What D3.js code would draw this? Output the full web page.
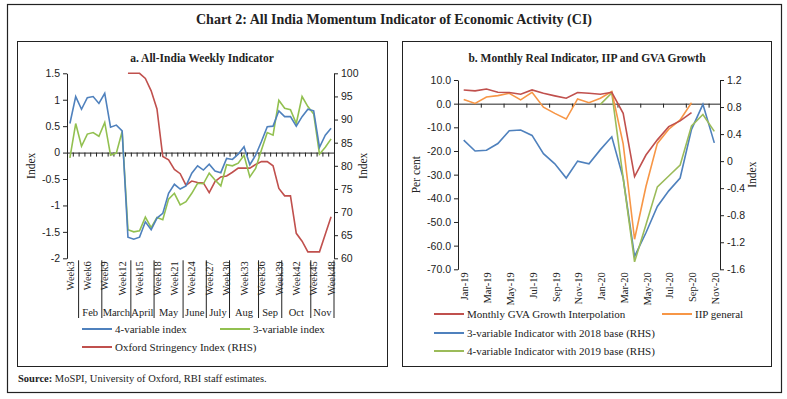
<!DOCTYPE html>
<html>
<head>
<meta charset="utf-8">
<script src="https://cdn.jsdelivr.net/npm/d3@7"></script>
<style>
  body { margin: 0; background: #fff; }
  svg { display: block; font-family: "Liberation Serif", "Times New Roman", serif; }
  .tick text { font-size: 10.5px; fill: #222; }
</style>
</head>
<body>
<div id="chart"></div>
<script>
// ---------- data: panel a (weekly) ----------
const weeks = d3.range(3, 49).map(w => "Week" + w);
const weekMonths = ["Feb", "March", "April", "May", "June", "July", "Aug", "Sep", "Oct", "Nov"];
const monthFirstWeek = [5, 9, 14, 18, 23, 27, 31, 36, 40, 45];
const fourVar = [0.55, 1.06, 0.82, 1.04, 1.06, 0.93, 1.12, 0.48, 0.52, 0.41,
  -1.60, -1.64, -1.60, -1.31, -1.46, -1.24, -1.15, -0.77, -0.60, -0.69,
  -0.63, -0.39, -0.25, -0.33, -0.22, -0.35, -0.38, -0.11, -0.13, -0.03,
  0.11, -0.23, -0.05, 0.21, 0.49, 0.50, 0.79, 0.68, 0.68, 0.50,
  0.68, 0.82, 0.79, 0.10, 0.33, 0.46];
const threeVar = [-0.10, 0.55, 0.12, 0.35, 0.38, 0.31, 0.57, -0.05, -0.01, 0.40,
  -1.46, -1.50, -1.48, -1.22, -1.42, -1.23, -1.27, -0.88, -0.77, -0.99,
  -0.93, -0.77, -0.58, -0.59, -0.39, -0.52, -0.63, -0.23, -0.25, -0.20,
  -0.05, -0.46, -0.30, 0.05, 0.38, 0.33, 0.99, 0.84, 0.81, 0.55,
  1.06, 0.87, 0.73, -0.03, 0.10, 0.26];
const stringency = [null, null, null, null, null, null, null, null, null, null,
  100, 100, 100, 98.9, 96.2, 92.3, 82.0, 81.3, 79.2, 78.3,
  75.8, 76.7, 76.4, 76.3, 74.2, 76.6, 77.6, 77.8, 78.6, 79.5,
  79.5, 79.5, 80.3, 80.9, 80.9, 80.0, 75.1, 73.5, 73.5, 65.4,
  63.7, 61.4, 61.4, 61.4, 65.2, 69.0];
const aLeftTicks = [-2, -1.5, -1, -0.5, 0, 0.5, 1, 1.5];
const aRightTicks = [60, 65, 70, 75, 80, 85, 90, 95, 100];

// ---------- data: panel b (monthly) ----------
const months = ["Jan-19", "Feb-19", "Mar-19", "Apr-19", "May-19", "Jun-19", "Jul-19", "Aug-19",
  "Sep-19", "Oct-19", "Nov-19", "Dec-19", "Jan-20", "Feb-20", "Mar-20", "Apr-20", "May-20",
  "Jun-20", "Jul-20", "Aug-20", "Sep-20", "Oct-20", "Nov-20"];
const gva = [5.8, 5.4, 6.2, 4.8, 4.7, 4.0, 5.8, 4.4, 3.3, 2.3, 4.7, 4.4, 4.0, 4.8,
  -4.1, -30.8, -21.7, -15.3, -9.7, -7.3, -3.8, null, null];
const iip = [1.8, 0.1, 2.8, 3.4, 4.4, 1.6, 4.8, -1.5, -4.1, -6.5, 2.0, 0.4, 2.3, 5.1,
  -17.0, -57.3, -35.0, -16.8, -10.8, -6.9, 0.4, null, null];
const ind2018 = [0.31, 0.15, 0.16, 0.26, 0.45, 0.46, 0.38, 0.11, -0.04, -0.25, 0.00, -0.04,
  0.17, 0.36, -0.25, -1.41, -1.06, -0.67, -0.44, -0.25, 0.47, 0.84, 0.27];
const ind2019 = [null, null, null, null, null, null, null, null, null, null, null, null,
  0.84, 1.01, -0.25, -1.49, -0.94, -0.38, -0.22, -0.06, 0.52, 0.69, 0.44];
const bLeftTicks = [-70, -60, -50, -40, -30, -20, -10, 0, 10];
const bRightTicks = [-1.6, -1.2, -0.8, -0.4, 0, 0.4, 0.8, 1.2];

const C = { blue: "#4F81BD", green: "#92C050", red: "#C0504D", orange: "#F79646", green2: "#9BBB59" };

const svg = d3.select("#chart").append("svg")
  .attr("width", 787)
  .attr("height", 399);

svg.append("rect").attr("width", 787).attr("height", 399).attr("fill", "#fff");
svg.append("rect")
  .attr("x", 7.5).attr("y", 4.5).attr("width", 774).attr("height", 388)
  .attr("fill", "none").attr("stroke", "#222").attr("stroke-width", 1.2);

svg.append("text")
  .attr("x", 394).attr("y", 24)
  .attr("text-anchor", "middle")
  .attr("font-size", 14).attr("font-weight", "bold").attr("fill", "#222")
  .text("Chart 2: All India Momentum Indicator of Economic Activity (CI)");

// panel frames
[[17.5, 370], [402.5, 369]].forEach(([x, w]) => {
  svg.append("rect")
    .attr("x", x).attr("y", 41.5).attr("width", w).attr("height", 325)
    .attr("fill", "none").attr("stroke", "#222").attr("stroke-width", 1);
});

// source
const src = svg.append("text").attr("x", 18).attr("y", 382).attr("font-size", 10.5).attr("fill", "#222");
src.append("tspan").attr("font-weight", "bold").text("Source: ");
src.append("tspan").text("MoSPI, University of Oxford, RBI staff estimates.");

function styleAxis(g) {
  g.selectAll("path, line").attr("stroke", "#222").attr("stroke-width", 1);
}

function legendItem(g, x, y, color, label) {
  g.append("line").attr("x1", x).attr("x2", x + 30).attr("y1", y).attr("y2", y)
    .attr("stroke", color).attr("stroke-width", 2);
  g.append("text").attr("x", x + 33).attr("y", y).attr("dy", "0.35em")
    .attr("font-size", 11).attr("fill", "#222").text(label);
}

// ================= panel a =================
{
  const L = 67, R = 334, T = 73.3, B = 258.3;
  const g = svg.append("g");
  const x = d3.scaleBand().domain(weeks).range([L, R]);
  const xi = d3.scaleLinear().domain([0, weeks.length]).range([L, R]);
  const yL = d3.scaleLinear().domain([-2, 1.5]).range([B, T]);
  const yR = d3.scaleLinear().domain([60, 100]).range([B, T]);
  const cx = i => x(weeks[i]) + x.bandwidth() / 2;

  g.append("text").attr("x", 202).attr("y", 62).attr("text-anchor", "middle")
    .attr("font-size", 11.5).attr("font-weight", "bold").attr("fill", "#222")
    .text("a. All-India Weekly Indicator");

  g.append("g").attr("transform", `translate(${L},0)`)
    .call(d3.axisLeft(yL).tickValues(aLeftTicks).tickSize(4).tickSizeOuter(0).tickFormat(d => String(d)))
    .call(styleAxis);
  g.append("g").attr("transform", `translate(${R},0)`)
    .call(d3.axisRight(yR).tickValues(aRightTicks).tickSize(4).tickSizeOuter(0).tickFormat(d => String(d)))
    .call(styleAxis);
  g.append("g").attr("transform", `translate(0,${yL(0)})`)
    .call(d3.axisBottom(xi).tickValues(d3.range(0, weeks.length + 1)).tickSize(4).tickSizeOuter(0).tickFormat(""))
    .call(styleAxis);

  g.append("text").attr("transform", `translate(35,${(T + B) / 2}) rotate(-90)`)
    .attr("text-anchor", "middle").attr("font-size", 11.5).attr("fill", "#222").text("Index");
  g.append("text").attr("transform", `translate(367,${(T + B) / 2}) rotate(-90)`)
    .attr("text-anchor", "middle").attr("font-size", 11.5).attr("fill", "#222").text("Index");

  // week labels
  g.selectAll(".wk").data(weeks.filter((d, i) => i % 3 === 0)).enter().append("text")
    .attr("transform", d => `translate(${x(d) + x.bandwidth() / 2},${B + 3}) rotate(-90)`)
    .attr("text-anchor", "end").attr("dy", "0.35em")
    .attr("font-size", 10.5).attr("fill", "#222").text(d => d);

  // month groups
  const starts = monthFirstWeek.map(w => weeks.indexOf("Week" + w));
  const bounds = starts.concat([weeks.length]);
  g.selectAll(".sep").data(bounds).enter().append("line")
    .attr("x1", d => xi(d)).attr("x2", d => xi(d))
    .attr("y1", B + 2).attr("y2", 318)
    .attr("stroke", "#222").attr("stroke-width", 1);
  g.selectAll(".mo").data(weekMonths).enter().append("text")
    .attr("x", (d, i) => (xi(bounds[i]) + xi(bounds[i + 1])) / 2)
    .attr("y", 312).attr("dy", "0.35em").attr("text-anchor", "middle")
    .attr("font-size", 10.5).attr("fill", "#222").text(d => d);

  const lineL = d3.line().defined(d => d != null).x((d, i) => cx(i)).y(d => yL(d));
  const lineR = d3.line().defined(d => d != null).x((d, i) => cx(i)).y(d => yR(d));
  g.append("path").attr("d", lineR(stringency)).attr("fill", "none").attr("stroke", C.red).attr("stroke-width", 1.6);
  g.append("path").attr("d", lineL(threeVar)).attr("fill", "none").attr("stroke", C.green).attr("stroke-width", 1.6);
  g.append("path").attr("d", lineL(fourVar)).attr("fill", "none").attr("stroke", C.blue).attr("stroke-width", 1.6);

  legendItem(g, 82, 329, C.blue, "4-variable index");
  legendItem(g, 220, 329, C.green, "3-variable index");
  legendItem(g, 82, 347, C.red, "Oxford Stringency Index (RHS)");
}

// ================= panel b =================
{
  const L = 458, R = 720, T = 80, B = 269.3;
  const g = svg.append("g");
  const x = d3.scaleBand().domain(months).range([L, R]);
  const xi = d3.scaleLinear().domain([0, months.length]).range([L, R]);
  const yL = d3.scaleLinear().domain([-70, 10]).range([B, T]);
  const yR = d3.scaleLinear().domain([-1.6, 1.2]).range([B, T]);
  const cx = i => x(months[i]) + x.bandwidth() / 2;

  g.append("text").attr("x", 587).attr("y", 62).attr("text-anchor", "middle")
    .attr("font-size", 11.5).attr("font-weight", "bold").attr("fill", "#222")
    .text("b. Monthly Real Indicator, IIP and GVA Growth");

  g.append("g").attr("transform", `translate(${L},0)`)
    .call(d3.axisLeft(yL).tickValues(bLeftTicks).tickSize(4).tickSizeOuter(0).tickFormat(d => d.toFixed(1)))
    .call(styleAxis);
  g.append("g").attr("transform", `translate(${R},0)`)
    .call(d3.axisRight(yR).tickValues(bRightTicks).tickSize(4).tickSizeOuter(0).tickFormat(d => d === 0 ? "0" : d.toFixed(1)))
    .call(styleAxis);
  g.append("g").attr("transform", `translate(0,${yL(0)})`)
    .call(d3.axisBottom(xi).tickValues(d3.range(2, months.length, 2)).tickSize(4).tickSizeOuter(0).tickFormat(""))
    .call(styleAxis);

  g.append("text").attr("transform", `translate(420,${(T + B) / 2}) rotate(-90)`)
    .attr("text-anchor", "middle").attr("font-size", 11.5).attr("fill", "#222").text("Per cent");
  g.append("text").attr("transform", `translate(756,${(T + B) / 2}) rotate(-90)`)
    .attr("text-anchor", "middle").attr("font-size", 11.5).attr("fill", "#222").text("Index");

  g.selectAll(".mlab").data(months.filter((d, i) => i % 2 === 0)).enter().append("text")
    .attr("transform", d => `translate(${x(d) + x.bandwidth() / 2 + 1},${B + 3}) rotate(-90)`)
    .attr("text-anchor", "end").attr("dy", "0.35em")
    .attr("font-size", 10.5).attr("fill", "#222").text(d => d);

  const lineL = d3.line().defined(d => d != null).x((d, i) => cx(i)).y(d => yL(d));
  const lineR = d3.line().defined(d => d != null).x((d, i) => cx(i)).y(d => yR(d));
  g.append("path").attr("d", lineR(ind2018)).attr("fill", "none").attr("stroke", C.blue).attr("stroke-width", 1.6);
  g.append("path").attr("d", lineR(ind2019)).attr("fill", "none").attr("stroke", C.green2).attr("stroke-width", 1.6);
  g.append("path").attr("d", lineL(iip)).attr("fill", "none").attr("stroke", C.orange).attr("stroke-width", 1.6);
  g.append("path").attr("d", lineL(gva)).attr("fill", "none").attr("stroke", C.red).attr("stroke-width", 1.6);

  legendItem(g, 434, 314, C.red, "Monthly GVA Growth Interpolation");
  legendItem(g, 662, 314, C.orange, "IIP general");
  legendItem(g, 434, 333, C.blue, "3-variable Indicator with 2018 base (RHS)");
  legendItem(g, 434, 351, C.green2, "4-variable Indicator with 2019 base (RHS)");
}
</script>
</body>
</html>
